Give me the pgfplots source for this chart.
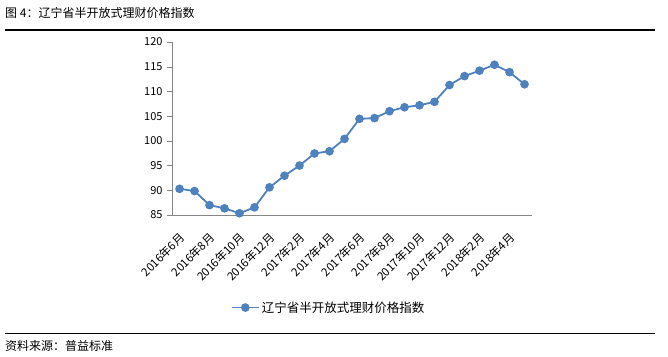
\documentclass[border=0pt]{standalone}
\usepackage{pgfplots}
\pgfplotsset{compat=1.18}
\usepackage{fontspec}
\setmainfont{Noto Sans CJK SC}
\definecolor{serblue}{HTML}{4F81BD}
\definecolor{axgray}{HTML}{868686}
\begin{document}
\begin{tikzpicture}[x=1pt,y=1pt]
\path (0,0) rectangle (668,356);
\node[anchor=west,inner sep=0pt,font=\fontsize{12}{14}\selectfont] at (5,343) {图 4：辽宁省半开放式理财价格指数};
\draw[line width=1.2pt] (5,326) -- (655,326);
\draw[line width=1pt] (5,23) -- (655,23);
\node[anchor=west,inner sep=0pt,font=\fontsize{12}{14}\selectfont] at (5,10.5) {资料来源：普益标准};
\begin{axis}[
  at={(172pt,141pt)}, anchor=south west,
  scale only axis, width=360pt, height=173pt,
  xmin=-0.5, xmax=23.5, ymin=85, ymax=120,
  ytick={85,90,...,120},
  xtick={0,2,...,22},
  xticklabels={2016年6月,2016年8月,2016年10月,2016年12月,2017年2月,2017年4月,2017年6月,2017年8月,2017年10月,2017年12月,2018年2月,2018年4月},
  x tick label style={xshift=-1pt,yshift=-10pt,rotate=45,anchor=north east,inner sep=1pt,font=\fontsize{11.5}{13}\selectfont},
  major x tick style={draw=none},
  extra x ticks={-0.5,1.5,3.5,5.5,7.5,9.5,11.5,13.5,15.5,17.5,19.5,21.5,23.5},
  extra x tick labels={},
  extra x tick style={tick style={draw=axgray},major tick length=5pt},
  axis x line*=bottom, axis y line*=left,
  x axis line style={-,draw=axgray},
  y axis line style={-,draw=axgray},
  y tick style={draw=axgray},
  tick align=outside, major tick length=5pt,
  ticklabel style={font=\fontsize{11}{13}\selectfont},
  y tick label style={xshift=-1pt},
  /pgf/number format/assume math mode=true,
  legend style={at={(0.435,-0.535)},anchor=center,draw=none,fill=none,font=\fontsize{12.5}{14}\selectfont},
  legend image code/.code={\draw[mark repeat=2,mark phase=2,#1] plot coordinates {(0cm,0cm)(0.48cm,0cm)(0.96cm,0cm)};},
]
\addplot[serblue, line width=1.8pt, mark=*, mark size=3.4pt, mark options={fill=serblue,draw=serblue}] coordinates {
(0,90.3) (1,89.85) (2,87.0) (3,86.35) (4,85.35) (5,86.55) (6,90.6) (7,92.95)
(8,95.0) (9,97.45) (10,97.9) (11,100.4) (12,104.45) (13,104.6) (14,106.0) (15,106.8)
(16,107.2) (17,107.9) (18,111.3) (19,113.1) (20,114.2) (21,115.4) (22,113.9) (23,111.45)
};
\addlegendentry{辽宁省半开放式理财价格指数}
\end{axis}
\end{tikzpicture}
\end{document}
